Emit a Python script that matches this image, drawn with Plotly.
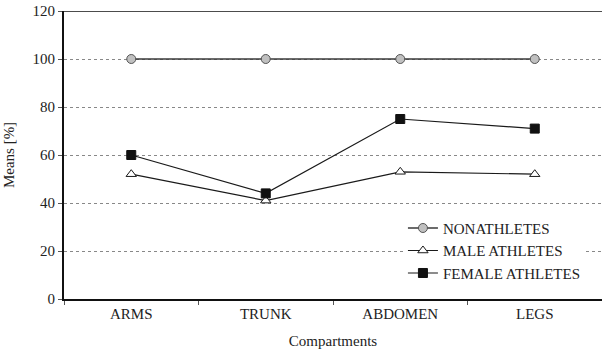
import plotly.graph_objects as go

categories = ["ARMS", "TRUNK", "ABDOMEN", "LEGS"]
nonathletes = [100, 100, 100, 100]
male_athletes = [52, 41, 53, 52]
female_athletes = [60, 44, 75, 71]
y_ticks = [0, 20, 40, 60, 80, 100, 120]

FONT = "'Times New Roman', 'Liberation Serif', serif"
FS = 15

fig = go.Figure()
fig.add_trace(go.Scatter(
    x=categories, y=nonathletes, name="NONATHLETES", mode="lines+markers",
    line=dict(color="#3a3a3a", width=1.6),
    marker=dict(symbol="circle", size=9, color="#c0c0c0", line=dict(color="#555555", width=1))))
fig.add_trace(go.Scatter(
    x=categories, y=male_athletes, name="MALE ATHLETES", mode="lines+markers",
    line=dict(color="#1a1a1a", width=1.2),
    marker=dict(symbol="triangle-up", size=9, color="white", line=dict(color="#1a1a1a", width=1))))
fig.add_trace(go.Scatter(
    x=categories, y=female_athletes, name="FEMALE ATHLETES", mode="lines+markers",
    line=dict(color="#1a1a1a", width=1.2),
    marker=dict(symbol="square", size=9, color="#111111", line=dict(color="#111111", width=1))))

fig.update_layout(
    width=602, height=352,
    margin=dict(l=64, r=0, t=11, b=53),
    paper_bgcolor="white", plot_bgcolor="white",
    font=dict(family=FONT, size=FS, color="#222222"),
    showlegend=True,
    legend=dict(x=0.630, y=0.303, xanchor="left", yanchor="top",
                bgcolor="white", borderwidth=0, tracegroupgap=0,
                font=dict(family=FONT, size=FS, color="#222222"),
                itemwidth=30),
    xaxis=dict(
        type="category", range=[-0.5, 3.5], automargin=False,
        showline=True, linecolor="#111111", linewidth=2,
        ticks="outside", tickson="boundaries", ticklen=4, tickcolor="#555555",
        showgrid=False, zeroline=False,
        tickfont=dict(family=FONT, size=FS, color="#222222"),
        title=dict(text="Compartments", font=dict(family=FONT, size=FS, color="#222222"), standoff=14),
    ),
    yaxis=dict(
        range=[0, 120], tickvals=y_ticks, automargin=False,
        showline=True, linecolor="#111111", linewidth=2,
        ticks="outside", ticklen=4, tickcolor="#555555",
        showgrid=True, gridcolor="#888888", griddash="dot", gridwidth=1,
        zeroline=False,
        tickfont=dict(family=FONT, size=FS, color="#222222"),
        title=dict(text="Means [%]", font=dict(family=FONT, size=FS, color="#222222"), standoff=14),
    ),
)
# top border line at 120
fig.add_shape(type="line", xref="paper", yref="y", x0=0, x1=1, y0=120, y1=120,
              line=dict(color="#111111", width=1.5))

fig.write_html("out.html", config={"displayModeBar": False},
               post_script="document.body.style.margin='0';document.body.style.overflow='hidden';")
